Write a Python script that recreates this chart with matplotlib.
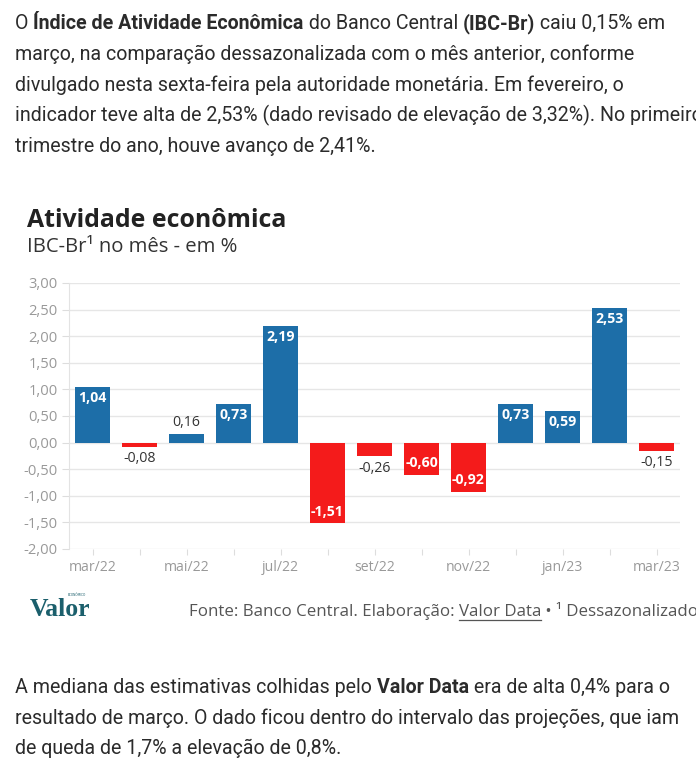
import matplotlib
matplotlib.use('Agg')
import matplotlib.pyplot as plt
from matplotlib.lines import Line2D

# data
months = ['mar/22', 'abr/22', 'mai/22', 'jun/22', 'jul/22', 'ago/22', 'set/22',
          'out/22', 'nov/22', 'dez/22', 'jan/23', 'fev/23', 'mar/23']
values = [1.04, -0.08, 0.16, 0.73, 2.19, -1.51, -0.26, -0.60, -0.92, 0.73, 0.59, 2.53, -0.15]
yticks = [-2.0, -1.5, -1.0, -0.5, 0.0, 0.5, 1.0, 1.5, 2.0, 2.5, 3.0]

intro = [
    [('O ', False), ('Índice de Atividade Econômica', True), (' do Banco Central ', False),
     ('(IBC-Br)', True), (' caiu 0,15% em', False)],
    [('março, na comparação dessazonalizada com o mês anterior, conforme', False)],
    [('divulgado nesta sexta-feira pela autoridade monetária. Em fevereiro, o', False)],
    [('indicador teve alta de 2,53% (dado revisado de elevação de 3,32%). No primeiro', False)],
    [('trimestre do ano, houve avanço de 2,41%.', False)],
]
outro = [
    [('A mediana das estimativas colhidas pelo ', False), ('Valor Data', True),
     (' era de alta 0,4% para o', False)],
    [('resultado de março. O dado ficou dentro do intervalo das projeções, que iam', False)],
    [('de queda de 1,7% a elevação de 0,8%.', False)],
]

W, H = 696, 768
BLUE = '#1d6ea8'
RED = '#f41b1b'
PARA_FONT = ['Roboto', 'DejaVu Sans']

fig = plt.figure(figsize=(W / 100, H / 100), dpi=100)
renderer = fig.canvas.get_renderer()


def text_width(s, **kw):
    t = fig.text(0, 0, s + '|', **kw)
    b = fig.text(0, 0, '|', **kw)
    w = t.get_window_extent(renderer).width - b.get_window_extent(renderer).width
    t.remove()
    b.remove()
    return w


# the article font is condensed; fit the size so the second line is as wide as in the page
para_size = 14.4 * 622 / text_width(intro[1][0][0], fontsize=14.4, family=PARA_FONT)


def draw_runs(x_px, base_px, runs, size, color='#2b2b2b'):
    x = x_px
    for s, bold in runs:
        kw = dict(fontsize=size, family=PARA_FONT, fontweight='bold' if bold else 'normal')
        fig.text(x / W, 1 - base_px / H, s, color=color, va='baseline', ha='left', **kw)
        x += text_width(s, **kw)


for i, line in enumerate(intro):
    draw_runs(15, 29 + i * 30.8, line, para_size)
for i, line in enumerate(outro):
    draw_runs(15, 693 + i * 30.5, line, para_size)

# chart titles
fig.text(27 / W, 1 - 227 / H, 'Atividade econômica', family='Open Sans', fontweight='bold',
         fontsize=17.9, color='#222222', va='baseline')
fig.text(27 / W, 1 - 252 / H, 'IBC-Br¹ no mês - em %', family='Open Sans',
         fontsize=14.6, color='#333333', va='baseline')

# bar chart
ax = fig.add_axes([69 / W, 1 - 549 / H, (680 - 69) / W, (549 - 283) / H])
x = list(range(len(values)))
colors = [BLUE if v >= 0 else RED for v in values]
ax.bar(x, values, width=0.75, color=colors, zorder=3)

ax.set_xlim(-0.5, len(values) - 0.5)
ax.set_ylim(-2, 3)
ax.set_yticks(yticks)
ax.set_yticklabels([f'{v:.2f}'.replace('.', ',') for v in yticks])
ax.set_xticks(x)
ax.set_xticklabels([m if i % 2 == 0 else '' for i, m in enumerate(months)])
ax.grid(axis='y', color='#e6e6e6', linewidth=1, zorder=0)
for side in ['top', 'right', 'bottom']:
    ax.spines[side].set_visible(False)
ax.spines['left'].set_color('#e3e3e3')
ax.tick_params(axis='y', length=5, color='#dddddd', labelcolor='#999999', labelsize=10.6, pad=3)
ax.tick_params(axis='x', length=4, color='#dddddd', labelcolor='#999999', labelsize=10.1, pad=4)
for lab in ax.get_xticklabels() + ax.get_yticklabels():
    lab.set_family('Open Sans')

for xi, v in zip(x, values):
    lbl = f'{v:.2f}'.replace('.', ',')
    sign = 1 if v >= 0 else -1
    if abs(v) >= 0.4:
        ax.annotate(lbl, (xi, v), xytext=(0, -8 * sign), textcoords='offset points',
                    ha='center', va='center', color='white', fontweight='bold',
                    family='Open Sans', fontsize=10.2, zorder=4)
    else:
        ax.annotate(lbl, (xi, v), xytext=(0, 8.5 * sign), textcoords='offset points',
                    ha='center', va='center', color='#333333',
                    family='Open Sans', fontsize=10.2, zorder=4)

# footer
fig.text(30 / W, 1 - 616 / H, 'Valor', family='Liberation Serif', fontweight='bold',
         fontsize=18.5, color='#1b5f6c', va='baseline')
fig.text(68 / W, 1 - 596.5 / H, 'ECONÔMICO', family='DejaVu Sans', fontsize=2.2,
         color='#1b5f6c', va='baseline')

foot_kw = dict(family='Open Sans', fontsize=12.2)
fx = 189
runs = [('Fonte: Banco Central. Elaboração: ', False), ('Valor Data', True),
        (' • ¹ Dessazonalizado', False)]
for s, underline in runs:
    fig.text(fx / W, 1 - 616 / H, s, color='#555555', va='baseline', **foot_kw)
    w = text_width(s, **foot_kw)
    if underline:
        fig.add_artist(Line2D([fx / W, (fx + w) / W], [1 - 620 / H, 1 - 620 / H],
                              color='#555555', linewidth=0.9))
    fx += w

fig.savefig('out.png', dpi=100)
